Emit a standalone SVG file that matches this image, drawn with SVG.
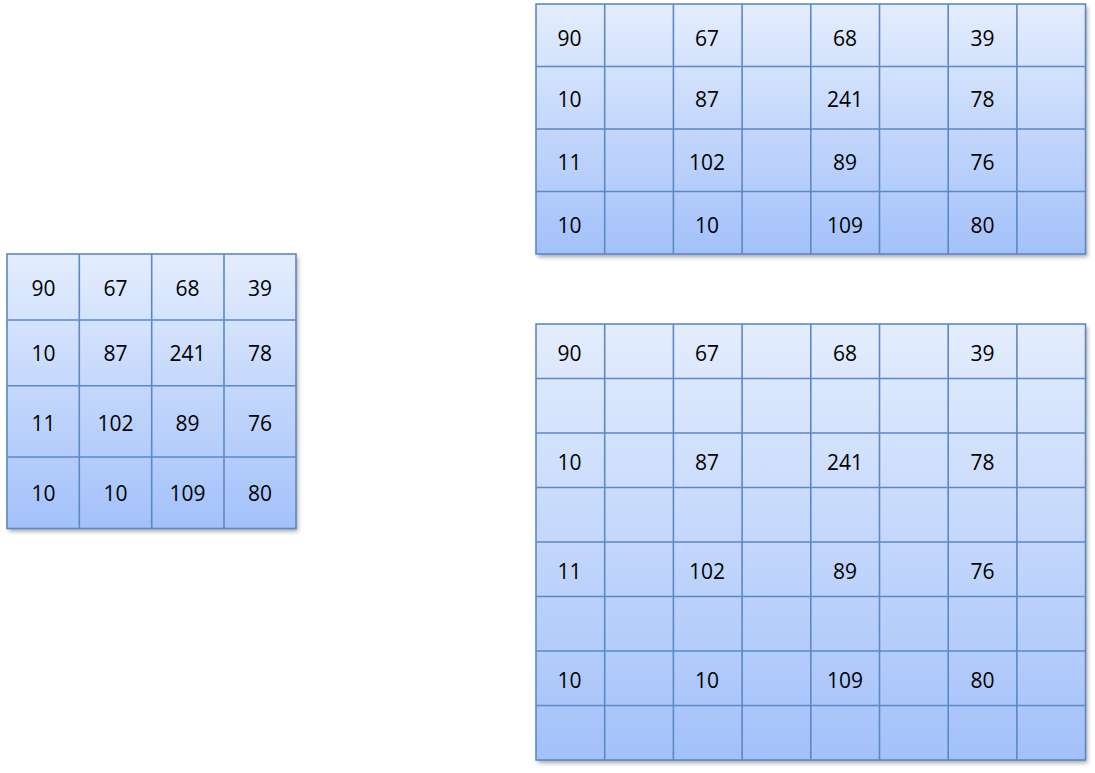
<svg xmlns="http://www.w3.org/2000/svg" width="1095" height="773" viewBox="0 0 1095 773">
<style>
.c{fill:none;stroke:#5A89C6;stroke-width:1.6}
.t{font-family:"Open Sans","Liberation Sans",sans-serif;font-size:21px;fill:#000;text-anchor:middle}
</style>
<defs>
<linearGradient id="g" x1="0" y1="0" x2="0" y2="1">
<stop offset="0" stop-color="#E4EDFD"/>
<stop offset="1" stop-color="#A3C1FA"/>
</linearGradient>
<filter id="sh" x="-5%" y="-5%" width="112%" height="112%">
<feGaussianBlur in="SourceAlpha" stdDeviation="2"/>
<feOffset dx="1.5" dy="2.5"/>
<feComponentTransfer><feFuncA type="linear" slope="0.35"/></feComponentTransfer>
<feMerge><feMergeNode/><feMergeNode in="SourceGraphic"/></feMerge>
</filter>
</defs>
<rect width="1095" height="773" fill="#fff"/>

<g id="input-grid">
<rect x="7" y="254" width="289" height="274.5" fill="url(#g)" filter="url(#sh)"/>
<g class="c">
<rect x="7" y="254" width="289" height="274.5"/>
<path d="M79.3 254V528.5M151.7 254V528.5M224 254V528.5M7 320H296M7 385.7H296M7 457H296"/>
</g>
<g class="t">
<text x="43.5" y="296">90</text><text x="115.5" y="296">67</text><text x="187.5" y="296">68</text><text x="260" y="296">39</text>
<text x="43.5" y="361">10</text><text x="115.5" y="361">87</text><text x="187.5" y="361">241</text><text x="260" y="361">78</text>
<text x="43.5" y="431">11</text><text x="115.5" y="431">102</text><text x="187.5" y="431">89</text><text x="260" y="431">76</text>
<text x="43.5" y="501">10</text><text x="115.5" y="501">10</text><text x="187.5" y="501">109</text><text x="260" y="501">80</text>
</g>
</g>

<g id="horizontal-upsample">
<rect x="536" y="4" width="549.5" height="250" fill="url(#g)" filter="url(#sh)"/>
<g class="c">
<rect x="536" y="4" width="549.5" height="250"/>
<path d="M604.7 4V254M673.4 4V254M742.1 4V254M810.8 4V254M879.5 4V254M948.2 4V254M1016.9 4V254M536 66.5H1085.5M536 129H1085.5M536 191.5H1085.5"/>
</g>
<g class="t">
<text x="569.5" y="45.5">90</text><text x="707" y="45.5">67</text><text x="845" y="45.5">68</text><text x="982.5" y="45.5">39</text>
<text x="569.5" y="107">10</text><text x="707" y="107">87</text><text x="845" y="107">241</text><text x="982.5" y="107">78</text>
<text x="569.5" y="170">11</text><text x="707" y="170">102</text><text x="845" y="170">89</text><text x="982.5" y="170">76</text>
<text x="569.5" y="233">10</text><text x="707" y="233">10</text><text x="845" y="233">109</text><text x="982.5" y="233">80</text>
</g>
</g>

<g id="full-upsample">
<rect x="536" y="324" width="549.5" height="436" fill="url(#g)" filter="url(#sh)"/>
<g class="c">
<rect x="536" y="324" width="549.5" height="436"/>
<path d="M604.7 324V760M673.4 324V760M742.1 324V760M810.8 324V760M879.5 324V760M948.2 324V760M1016.9 324V760M536 378.5H1085.5M536 433H1085.5M536 487.5H1085.5M536 542H1085.5M536 596.5H1085.5M536 651H1085.5M536 705.5H1085.5"/>
</g>
<g class="t">
<text x="569.5" y="361">90</text><text x="707" y="361">67</text><text x="845" y="361">68</text><text x="982.5" y="361">39</text>
<text x="569.5" y="470">10</text><text x="707" y="470">87</text><text x="845" y="470">241</text><text x="982.5" y="470">78</text>
<text x="569.5" y="579">11</text><text x="707" y="579">102</text><text x="845" y="579">89</text><text x="982.5" y="579">76</text>
<text x="569.5" y="688">10</text><text x="707" y="688">10</text><text x="845" y="688">109</text><text x="982.5" y="688">80</text>
</g>
</g>

<g id="connectors"/>
</svg>
